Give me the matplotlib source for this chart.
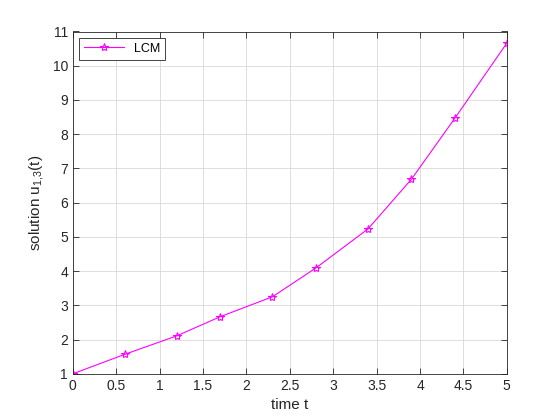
import matplotlib
matplotlib.use("Agg")
import matplotlib.pyplot as plt

t = [0.0, 0.6, 1.2, 1.7, 2.3, 2.8, 3.4, 3.9, 4.4, 5.0]
u = [1.0, 1.57, 2.11, 2.67, 3.25, 4.09, 5.23, 6.68, 8.46, 10.66]
x_ticks = [0, 0.5, 1, 1.5, 2, 2.5, 3, 3.5, 4, 4.5, 5]
y_ticks = list(range(1, 12))

plt.rcParams["font.family"] = ["Liberation Sans", "DejaVu Sans"]
plt.rcParams["mathtext.fontset"] = "custom"
plt.rcParams["mathtext.rm"] = "Liberation Sans"
axis_color = "#262626"

fig = plt.figure(figsize=(5.6, 4.2), dpi=100)
ax = fig.add_axes([0.13, 0.11, 0.775, 0.815])
ax.plot(t, u, color="magenta", linewidth=0.8, marker="*", markersize=6,
        markerfacecolor="none", markeredgecolor="magenta", markeredgewidth=0.8,
        label="LCM")

ax.set_xlim(0, 5)
ax.set_ylim(1, 11)
ax.set_xticks(x_ticks)
ax.set_xticklabels([f"{v:g}" for v in x_ticks])
ax.set_yticks(y_ticks)
ax.grid(True, color="#d9d9d9", linewidth=0.6)
ax.set_axisbelow(True)
ax.tick_params(direction="in", top=True, right=True, colors=axis_color,
               labelsize=10, length=4, width=0.6)
for s in ax.spines.values():
    s.set_color(axis_color)
    s.set_linewidth(0.6)

ax.set_xlabel("time t", fontsize=11, color=axis_color)
ax.set_ylabel(r"solution u$_{\mathrm{1{,}3}}$(t)", fontsize=11, color=axis_color)

leg = ax.legend(loc="upper left", fontsize=9, fancybox=False, framealpha=1,
                edgecolor=axis_color, borderaxespad=0.5, handlelength=3.2)
leg.get_frame().set_linewidth(0.6)

fig.savefig("out.png", dpi=100)
